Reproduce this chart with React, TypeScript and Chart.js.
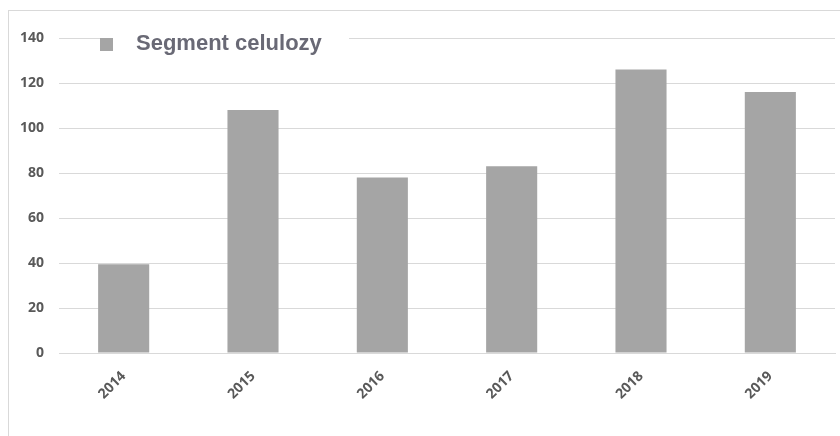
import React, { useEffect, useRef } from "react";
import { Chart, registerables } from "chart.js";

Chart.register(...registerables);

const categories = ["2014", "2015", "2016", "2017", "2018", "2019"];
const seriesName = "Segment celulozy";
const values = [39.5, 108, 78, 83, 126, 116];
const yMin = 0;
const yMax = 140;
const yStep = 20;

const BAR_COLOR = "#A5A5A5";
const GRID_COLOR = "#D9D9D9";
const TICK_COLOR = "#595959";
const LEGEND_TEXT = "#696975";

export default function App() {
  const ref = useRef<HTMLCanvasElement>(null);

  useEffect(() => {
    if (!ref.current) return;
    const overlay = {
      id: "overlay",
      beforeDraw(chart: any) {
        const ctx = chart.ctx;
        ctx.save();
        ctx.fillStyle = "#ffffff";
        ctx.fillRect(0, 0, chart.width, chart.height);
        ctx.strokeStyle = GRID_COLOR;
        ctx.lineWidth = 1;
        ctx.strokeRect(8.5, 10.5, 2000, 2000);
        ctx.restore();
      },
      afterDraw(chart: any) {
        const ctx = chart.ctx;
        const ds = chart.data.datasets[0];
        ctx.save();
        ctx.fillStyle = "#ffffff";
        ctx.fillRect(100, 22, 249, 36);
        ctx.fillStyle = ds.backgroundColor;
        ctx.fillRect(100, 38, 13, 13);
        ctx.fillStyle = LEGEND_TEXT;
        ctx.font = "bold 22px 'Liberation Sans', Arial, sans-serif";
        ctx.textBaseline = "alphabetic";
        ctx.textAlign = "left";
        ctx.fillText(ds.label, 136, 50);
        ctx.restore();
      },
    };

    const tickFont = { family: "'Open Sans', sans-serif", weight: "bold" as const, size: 14 };

    const chart = new Chart(ref.current, {
      type: "bar",
      data: {
        labels: categories,
        datasets: [
          {
            label: seriesName,
            data: values,
            backgroundColor: BAR_COLOR,
            borderWidth: 0,
            categoryPercentage: 1,
            barPercentage: 0.395,
          },
        ],
      },
      options: {
        responsive: false,
        animation: false,
        devicePixelRatio: 1,
        layout: { padding: { top: 38, right: 5, left: 0, bottom: 0 } },
        plugins: {
          legend: { display: false },
          tooltip: { enabled: false },
        },
        scales: {
          x: {
            grid: { display: false, drawTicks: false },
            border: { display: true, color: GRID_COLOR, width: 1 },
            ticks: {
              color: TICK_COLOR,
              font: tickFont,
              minRotation: 45,
              maxRotation: 45,
              padding: 15,
            },
            afterFit(scale: any) {
              scale.height = 83;
            },
          },
          y: {
            min: yMin,
            max: yMax,
            grid: { color: GRID_COLOR, drawTicks: false, lineWidth: 1 },
            border: { display: false },
            ticks: {
              stepSize: yStep,
              color: TICK_COLOR,
              font: tickFont,
              padding: 15,
            },
            afterFit(scale: any) {
              scale.width = 59;
            },
          },
        },
      },
      plugins: [overlay],
    });
    return () => chart.destroy();
  }, []);

  return (
    <div style={{ position: "fixed", left: 0, top: 0, width: 840, height: 436, background: "#fff" }}>
      <canvas ref={ref} width={840} height={436} style={{ display: "block" }} />
    </div>
  );
}
